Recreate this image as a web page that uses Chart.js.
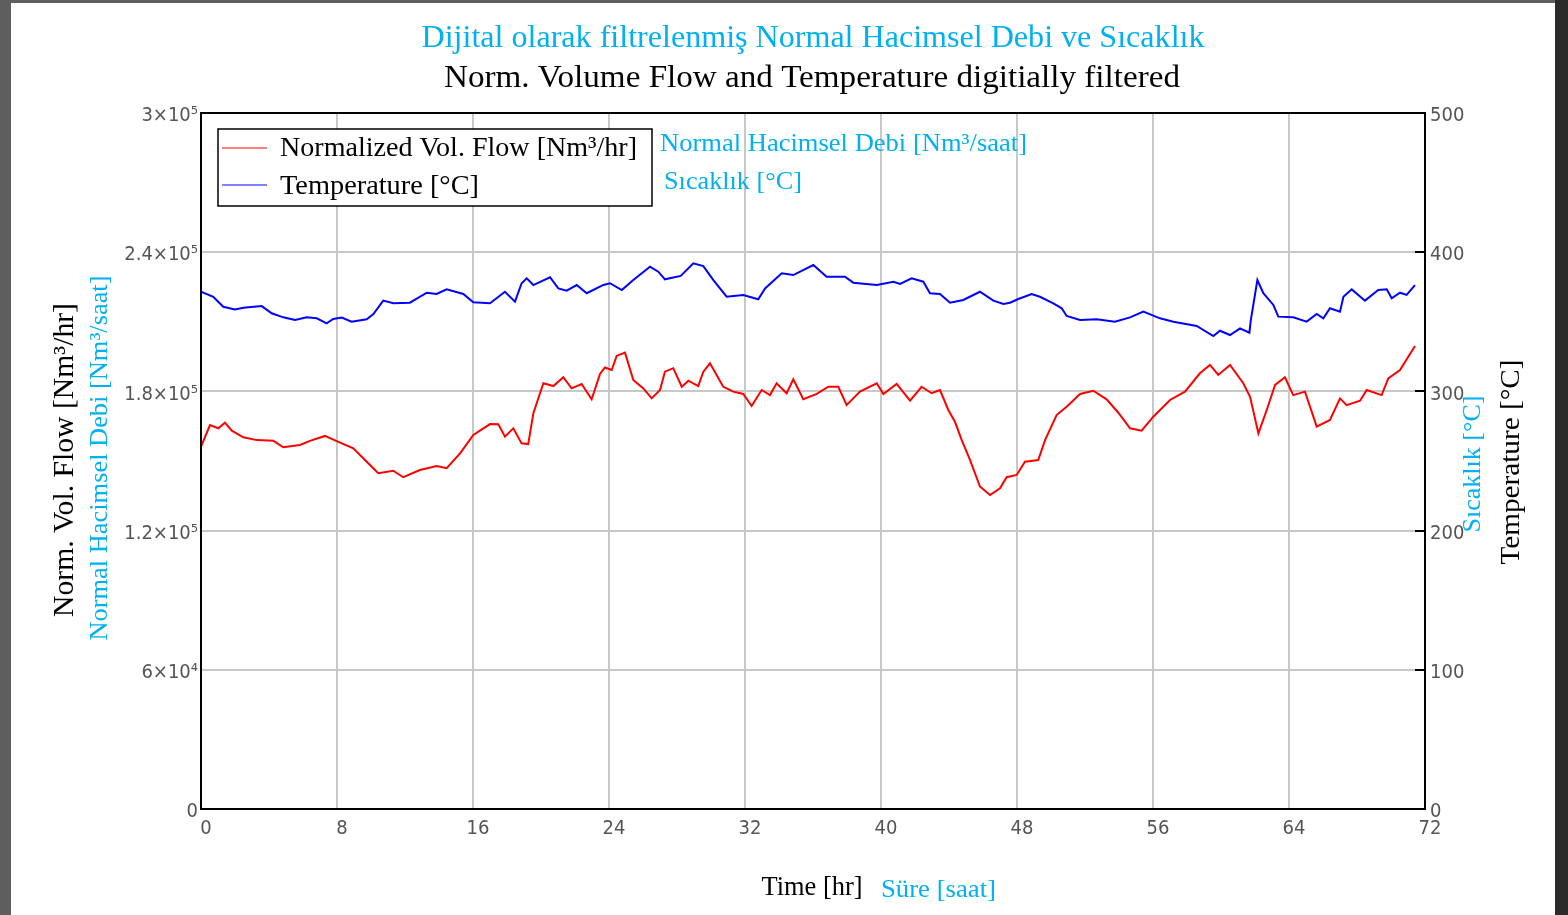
<!DOCTYPE html>
<html>
<head>
<meta charset="utf-8">
<script src="https://cdn.jsdelivr.net/npm/chart.js@4/dist/chart.umd.min.js"></script>
<style>
  html, body { margin: 0; padding: 0; width: 1568px; height: 915px; overflow: hidden; background: #2b2b2b; }
  #frameTop { position: absolute; left: 0; top: 0; width: 1555px; height: 3px; background: #5e5e5e; }
  #frameLeft { position: absolute; left: 0; top: 0; width: 11px; height: 915px; background: #5e5e5e; }
  #sheet { position: absolute; left: 11px; top: 3px; width: 1544px; height: 912px; background: #ffffff; }
  #chart { position: absolute; left: 0; top: 0; }
</style>
</head>
<body>
<div id="frameTop"></div>
<div id="frameLeft"></div>
<div id="sheet"></div>
<canvas id="chart" width="1568" height="915"></canvas>
<script>
// Filtered normalized volume flow [Nm³/hr] over time [hr]
const flowHours = [
  0, 0.53, 1.02, 1.41, 1.81, 2.49, 3.28, 4.26, 4.84, 5.82, 6.41, 7.29, 8.18, 8.96, 9.75,
  10.43, 11.31, 11.9, 12.88, 13.86, 14.45, 15.24, 16.02, 17.0, 17.49, 17.88, 18.37, 18.86, 19.25, 19.55,
  20.14, 20.73, 21.31, 21.8, 22.39, 22.98, 23.47, 23.76, 24.16, 24.45, 24.94, 25.43, 26.02, 26.51, 27.0,
  27.29, 27.78, 28.28, 28.67, 29.25, 29.55, 29.94, 30.72, 31.31, 31.9, 32.39, 32.98, 33.47, 33.86, 34.45,
  34.84, 35.43, 36.22, 36.9, 37.49, 37.98, 38.76, 39.75, 40.14, 40.92, 41.71, 42.39, 42.98, 43.47, 43.96,
  44.35, 44.75, 45.24, 45.82, 46.41, 47.0, 47.39, 47.98, 48.47, 49.25, 49.65, 50.33, 50.92, 51.71, 52.49,
  53.27, 53.96, 54.65, 55.33, 56.02, 57.0, 57.88, 58.76, 59.35, 59.84, 60.53, 61.31, 61.71, 62.2, 62.69,
  63.18, 63.76, 64.25, 64.94, 65.63, 66.41, 67.0, 67.39, 68.18, 68.57, 69.45, 69.84, 70.53, 71.41
];
const flowValues = [
  156200, 165500, 164100, 166500, 163100, 160200, 159000, 158700, 155900, 156900, 158700, 160800, 157900, 155500, 149700,
  144700, 145800, 143000, 146100, 147800, 146900, 153300, 161200, 165900, 165800, 160500, 164100, 157600, 157300, 170600,
  183500, 182300, 186100, 181300, 183200, 176600, 187500, 190300, 189200, 195300, 196700, 184900, 181300, 177000, 180600,
  188500, 190000, 182000, 184600, 182300, 188500, 192100, 182000, 179900, 178900, 173700, 180600, 178400, 183500, 179200,
  185200, 176600, 178900, 182000, 182000, 174100, 179900, 183500, 178900, 183200, 176000, 182000, 179200, 180600, 172000,
  166900, 159000, 150400, 139000, 135300, 138200, 143000, 144000, 149700, 150400, 159000, 169800, 173400, 178900, 180300,
  176600, 170800, 164100, 163100, 169100, 176300, 179900, 187800, 191400, 187100, 191400, 183500, 177700, 161900, 172000,
  182800, 186100, 178400, 179900, 164800, 167700, 177000, 174100, 176000, 180600, 178400, 185600, 189200, 199600
];

// Filtered temperature [°C] over time [hr]
const tempHours = [
  0, 0.72, 1.31, 2.0, 2.49, 3.57, 4.16, 4.84, 5.53, 6.22, 6.81, 7.39, 7.78, 8.28, 8.86,
  9.75, 10.14, 10.72, 11.31, 12.29, 13.28, 13.86, 14.45, 15.43, 16.02, 17.0, 17.88, 18.47, 18.86, 19.16,
  19.55, 20.53, 21.02, 21.51, 22.1, 22.69, 23.67, 24.06, 24.75, 25.43, 26.41, 26.9, 27.29, 28.22, 28.96,
  29.55, 30.14, 30.92, 31.9, 32.78, 33.18, 34.16, 34.84, 36.02, 36.8, 37.88, 38.37, 39.75, 40.73, 41.12,
  41.8, 42.49, 42.88, 43.47, 44.06, 44.84, 45.82, 46.61, 47.2, 47.59, 48.08, 48.86, 49.35, 50.14, 50.63,
  50.92, 51.71, 52.69, 53.76, 54.65, 55.43, 56.41, 57.2, 58.57, 59.55, 59.94, 60.53, 61.12, 61.67, 61.75,
  62.14, 62.49, 63.08, 63.37, 64.25, 65.04, 65.63, 66.02, 66.41, 67.0, 67.2, 67.69, 68.47, 69.25, 69.75,
  70.04, 70.53, 70.92, 71.41
];
const tempValues = [
  371.6, 368, 360.8, 358.9, 360.1, 361.3, 356.1, 353.2, 351.3, 353.2, 352.5, 348.9, 352, 353, 350.1,
  351.8, 355.6, 365.2, 363.3, 363.7, 370.9, 370, 373.3, 370, 364, 363.3, 371.6, 364.5, 377.7, 381.2,
  376.4, 382, 374, 372.4, 376.4, 370.5, 376.5, 377.7, 372.8, 380, 389.6, 386, 380.5, 383, 392,
  390, 380, 368, 369.3, 366.2, 374, 384.8, 383.6, 390.8, 382.4, 382.4, 378.1, 376.4, 378.8, 377.2,
  381.2, 378.8, 370.5, 370, 363.7, 365.7, 371.6, 365.2, 362.8, 363.7, 366.4, 370, 368, 363.3, 359.7,
  354.2, 351.3, 351.8, 350.1, 353.2, 357.3, 352.5, 350.1, 347, 339.8, 343.6, 340.5, 345.3, 342.2, 350.8,
  380, 370.5, 362.1, 353.7, 353.2, 350.1, 355.6, 352.5, 359.7, 357.3, 368, 373.3, 365.2, 372.8, 373.3,
  366.9, 370.9, 369.3, 376.4
];

// Axis ticks and their labels
const hourTicks = [0, 8, 16, 24, 32, 40, 48, 56, 64, 72];
const flowTicks = [0, 60000, 120000, 180000, 240000, 300000];
const flowTickLabels = ['0', '6×10⁴', '1.2×10⁵', '1.8×10⁵', '2.4×10⁵', '3×10⁵'];
const tempTicks = [0, 100, 200, 300, 400, 500];
const tempTickLabels = ['0', '100', '200', '300', '400', '500'];

// Texts
const titleTr = 'Dijital olarak filtrelenmiş Normal Hacimsel Debi ve Sıcaklık';
const titleEn = 'Norm. Volume Flow and Temperature digitially filtered';
const flowLabelEn = 'Normalized Vol. Flow [Nm³/hr]';
const tempLabelEn = 'Temperature [°C]';
const flowLabelTr = 'Normal Hacimsel Debi [Nm³/saat]';
const tempLabelTr = 'Sıcaklık [°C]';
const flowAxisEn = 'Norm. Vol. Flow [Nm³/hr]';
const tempAxisTr = 'Sıcaklık [°C]';
const timeAxisEn = 'Time [hr]';
const timeAxisTr = 'Süre [saat]';

const SERIF = '"Liberation Serif", "DejaVu Serif", serif';
const NARROW = '"Liberation Sans Narrow", "DejaVu Sans Condensed", "Liberation Sans", sans-serif';
const CYAN = '#00b0f0';
const FLOW_COLOR = '#ff0000';
const TEMP_COLOR = '#0000ff';
const TICK_COLOR = '#555555';

// Draw text squeezed to a given span; align: 'left' | 'center'
function fitText(ctx, text, x, y, size, width, color, align, rotate) {
  ctx.save();
  ctx.font = size + 'px ' + SERIF;
  ctx.fillStyle = color;
  ctx.textBaseline = 'middle';
  ctx.textAlign = 'left';
  const w = ctx.measureText(text).width;
  const sx = width / w;
  ctx.translate(x, y);
  if (rotate) ctx.rotate(-Math.PI / 2);
  ctx.scale(sx, 1);
  const ox = align === 'center' ? -w / 2 : 0;
  ctx.fillText(text, ox, 2);
  ctx.restore();
}

const decorations = {
  id: 'decorations',
  afterDraw(chart) {
    const ctx = chart.ctx;
    const a = chart.chartArea;
    const cx = (a.left + a.right) / 2;
    const yT = chart.scales.yTemp;

    // inner tick marks of the temperature axis
    ctx.save();
    ctx.strokeStyle = '#000';
    ctx.lineWidth = 2;
    tempTicks.forEach(v => {
      const py = Math.round(yT.getPixelForValue(v));
      ctx.beginPath();
      ctx.moveTo(a.right - 10, py);
      ctx.lineTo(a.right, py);
      ctx.stroke();
    });
    // plot frame
    ctx.lineWidth = 2;
    ctx.strokeRect(a.left, a.top, a.right - a.left, a.bottom - a.top);
    ctx.restore();

    // legend box
    const lx = a.left + 17, ly = a.top + 16, lw = 434, lh = 77;
    ctx.save();
    ctx.fillStyle = '#fff';
    ctx.fillRect(lx, ly, lw, lh);
    ctx.strokeStyle = '#000';
    ctx.lineWidth = 1.5;
    ctx.strokeRect(lx, ly, lw, lh);
    ctx.lineWidth = 1.2;
    [[FLOW_COLOR, ly + 19], [TEMP_COLOR, ly + 56]].forEach(([c, yy]) => {
      ctx.strokeStyle = c;
      ctx.beginPath();
      ctx.moveTo(lx + 4, yy);
      ctx.lineTo(lx + 49, yy);
      ctx.stroke();
    });
    ctx.restore();
    fitText(ctx, flowLabelEn, lx + 62, ly + 18, 28, 357, '#000', 'left');
    fitText(ctx, tempLabelEn, lx + 62, ly + 56, 28, 199, '#000', 'left');
    fitText(ctx, flowLabelTr, lx + lw + 8, ly + 13, 25, 367, CYAN, 'left');
    fitText(ctx, tempLabelTr, lx + lw + 12, ly + 51, 25, 138, CYAN, 'left');

    // titles
    fitText(ctx, titleTr, cx, 37, 31, 783, CYAN, 'center');
    fitText(ctx, titleEn, cx - 1, 77, 31, 736, '#000', 'center');

    // axis titles
    const my = (a.top + a.bottom) / 2;
    fitText(ctx, flowAxisEn, 63, my - 1, 29, 314, '#000', 'center', true);
    fitText(ctx, flowLabelTr, 98, my - 3, 25, 365, CYAN, 'center', true);
    fitText(ctx, tempAxisTr, 1471, my + 3, 25, 137, CYAN, 'center', true);
    fitText(ctx, tempLabelEn, 1510, my + 1, 28, 205, '#000', 'center', true);
    fitText(ctx, timeAxisEn, cx - 1, 886, 28, 101, '#000', 'center');
    fitText(ctx, timeAxisTr, 881, 888, 25, 115, CYAN, 'left');
  }
};

const tickFont = { family: NARROW, size: 20 };

new Chart(document.getElementById('chart'), {
  type: 'line',
  data: {
    datasets: [
      {
        label: flowLabelEn,
        data: flowHours.map((h, i) => ({ x: h, y: flowValues[i] })),
        borderColor: FLOW_COLOR,
        borderWidth: 2,
        pointRadius: 0,
        tension: 0,
        yAxisID: 'yFlow'
      },
      {
        label: tempLabelEn,
        data: tempHours.map((h, i) => ({ x: h, y: tempValues[i] })),
        borderColor: TEMP_COLOR,
        borderWidth: 2,
        pointRadius: 0,
        tension: 0,
        yAxisID: 'yTemp'
      }
    ]
  },
  options: {
    responsive: false,
    animation: false,
    devicePixelRatio: 1,
    layout: { padding: { top: 113, left: 0, right: 0, bottom: 0 } },
    plugins: {
      legend: { display: false },
      title: { display: false },
      tooltip: { enabled: false }
    },
    scales: {
      x: {
        type: 'linear',
        min: 0,
        max: 72,
        afterBuildTicks: s => { s.ticks = hourTicks.map(v => ({ value: v })); },
        afterFit: s => { s.height = 106; },
        ticks: { font: tickFont, color: TICK_COLOR, padding: 8, labelOffset: 5, maxRotation: 0, autoSkip: false },
        grid: { color: '#c8c8c8', lineWidth: 2, drawTicks: false },
        border: { display: false }
      },
      yFlow: {
        position: 'left',
        min: 0,
        max: 300000,
        afterBuildTicks: s => { s.ticks = flowTicks.map(v => ({ value: v })); },
        afterFit: s => { s.width = 201; },
        ticks: {
          font: tickFont, color: TICK_COLOR, padding: 3, labelOffset: 3, autoSkip: false,
          callback: (v, i) => flowTickLabels[i]
        },
        grid: { color: '#c8c8c8', lineWidth: 2, drawTicks: false },
        border: { display: false }
      },
      yTemp: {
        position: 'right',
        min: 0,
        max: 500,
        afterBuildTicks: s => { s.ticks = tempTicks.map(v => ({ value: v })); },
        afterFit: s => { s.width = 143; },
        ticks: {
          font: tickFont, color: TICK_COLOR, padding: 5, labelOffset: 3, autoSkip: false,
          callback: (v, i) => tempTickLabels[i]
        },
        grid: { drawOnChartArea: false, drawTicks: false },
        border: { display: false }
      }
    }
  },
  plugins: [decorations]
});
</script>
</body>
</html>
